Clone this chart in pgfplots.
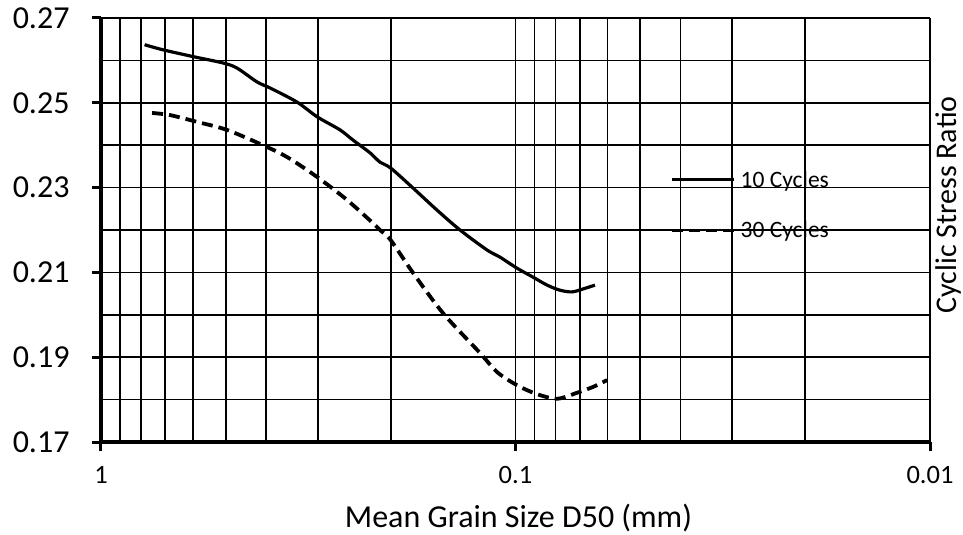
\documentclass[border=0pt]{standalone}
\usepackage{pgfplots}
\pgfplotsset{compat=1.18}
\usepackage{fontspec}
\setmainfont{Carlito}
\begin{document}
\begin{tikzpicture}
\begin{axis}[
  at={(0,0)}, anchor=south west,
  scale only axis, width=829bp, height=424bp,
  xmode=log, x dir=reverse, xmin=0.01, xmax=1,
  ymin=0.17, ymax=0.27,
  xtick={0.01,0.1,1}, xticklabels={0.01,0.1,1},
  minor xtick={0.02,0.03,0.04,0.05,0.06,0.07,0.08,0.09,0.2,0.3,0.4,0.5,0.6,0.7,0.8,0.9},
  ytick={0.17,0.19,0.21,0.23,0.25,0.27},
  minor ytick={0.18,0.20,0.22,0.24,0.26},
  /pgf/number format/.cd, fixed, fixed zerofill, precision=2, assume math mode=true, /pgfplots/.cd,
  grid=both,
  major grid style={black, line width=1.6bp},
  minor grid style={black, line width=1.6bp},
  axis x line*=bottom, axis y line*=left,
  axis line style={black, line width=3.5bp, -},
  tick align=outside, major tick length=9bp, minor tick length=0pt,
  tick style={black, line width=3bp},
  yticklabel style={font=\fontsize{32bp}{38bp}\selectfont, xshift=-19bp},
  xticklabel style={font=\fontsize{26.5bp}{31bp}\selectfont, yshift=-12bp},
  xlabel={Mean Grain Size D50 (mm)},
  xlabel style={font=\fontsize{32bp}{38bp}\selectfont, at={(rel axis cs:0.5036,0)}, anchor=base, yshift=-85bp, inner sep=0pt},
  ylabel={Cyclic Stress Ratio},
  ylabel style={font=\fontsize{30bp}{36bp}\selectfont, at={(rel axis cs:1.006,0.559)}, anchor=north, inner sep=0pt},
  legend style={at={(rel axis cs:0.686,0.645)}, anchor=north west, draw=none, fill=none, inner sep=0pt,
    font=\fontsize{23.5bp}{28bp}\selectfont, row sep=29bp, column sep=3bp, cells={anchor=west}},
  legend image code/.code={\draw[#1] (0bp,0bp) -- (62bp,0bp);},
]
\addplot[black, smooth, line width=3.2bp] coordinates {
(0.785,0.2637) (0.709,0.2625) (0.600,0.2609) (0.508,0.2594) (0.470,0.2582)
(0.420,0.2549) (0.391,0.2535) (0.337,0.2502) (0.301,0.2467) (0.265,0.2436)
(0.2466,0.2412) (0.2244,0.2382) (0.2123,0.2360) (0.2,0.2346) (0.1767,0.2299)
(0.1547,0.2247) (0.1361,0.2200) (0.1172,0.2153) (0.1090,0.2136) (0.0992,0.2110)
(0.0908,0.2089) (0.0839,0.2070) (0.0781,0.2058) (0.0731,0.2054) (0.0687,0.2061)
(0.0643,0.2070)
};
\addlegendentry{10 Cycles}
\addplot[black, smooth, line width=3.8bp, dash pattern=on 11bp off 6bp] coordinates {
(0.753,0.2476) (0.6815,0.2471) (0.5866,0.2455) (0.4966,0.2436) (0.4066,0.2400)
(0.3557,0.2372) (0.301,0.2325) (0.255,0.2271) (0.2207,0.2216) (0.2123,0.2200)
(0.2,0.2176) (0.1767,0.2099) (0.1496,0.2004) (0.1218,0.1910) (0.1108,0.1865)
(0.0992,0.1834) (0.0888,0.1813) (0.0794,0.1802) (0.0711,0.1816) (0.0650,0.1830)
(0.0601,0.1846)
};
\addlegendentry{30 Cycles}
\end{axis}
\pgfresetboundingbox
\useasboundingbox (-101bp,-93bp) rectangle (862bp,442bp);
\end{tikzpicture}
\end{document}
